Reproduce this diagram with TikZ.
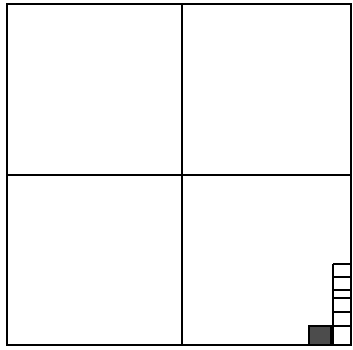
\documentclass[tikz,border=0pt]{standalone}
\usepackage{tikz}

\begin{document}
\begin{tikzpicture}[x=1pt,y=-1pt,line width=1.5pt]
\useasboundingbox (0,0) rectangle (353,349);
\draw (7,4) rectangle (351,345);
\draw (182,4) -- (182,345);
\draw (7,175) -- (351,175);
\draw (333,264) -- (333,345);
\foreach \y in {264,277,290,298,312,326}
  \draw (333,\y) -- (351,\y);
\draw[fill=black!70] (309,326) rectangle (331,345);
\draw (331,326) -- (333,326);
\end{tikzpicture}
\end{document}
